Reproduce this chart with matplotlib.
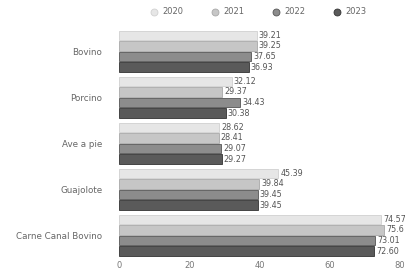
import numpy as np
import matplotlib.pyplot as plt
from matplotlib.lines import Line2D

categories = ["Bovino", "Porcino", "Ave a pie", "Guajolote", "Carne Canal Bovino"]
years = ["2020", "2021", "2022", "2023"]
v2020 = [39.21, 32.12, 28.62, 45.39, 74.57]
v2021 = [39.25, 29.37, 28.41, 39.84, 75.6]
v2022 = [37.65, 34.43, 29.07, 39.45, 73.01]
v2023 = [36.93, 30.38, 29.27, 39.45, 72.60]
labels2021 = ["39.25", "29.37", "28.41", "39.84", "75.6"]

series = [v2020, v2021, v2022, v2023]
colors = ["#e6e6e6", "#c6c6c6", "#8c8c8c", "#5a5a5a"]
edges = ["#d0d0d0", "#a8a8a8", "#555555", "#333333"]

fig = plt.figure(figsize=(4.06, 2.69), dpi=100)
ax = fig.add_axes([0.293, 0.04, 0.692, 0.855])

y = np.arange(len(categories))
h = 0.23
for i, (vals, c, ec) in enumerate(zip(series, colors, edges)):
    pos = y + (i - 1.5) * h
    bars = ax.barh(pos, vals, height=h * 0.9, color=c, edgecolor=ec, linewidth=0.6)
    for j, (b, v) in enumerate(zip(bars, vals)):
        txt = labels2021[j] if i == 1 else f"{v:.2f}"
        ax.text(v + 0.6, b.get_y() + b.get_height() / 2, txt, va="center", ha="left",
                fontsize=5.8, color="#555555")

ax.set_yticks(y)
ax.set_yticklabels(categories, fontsize=6.3, color="#666666")
ax.set_xlim(0, 80)
ax.set_xticks([0, 20, 40, 60, 80])
ax.tick_params(axis="x", labelsize=6, labelcolor="#777777", length=0, pad=2)
ax.tick_params(axis="y", length=0, pad=12)
ax.set_ylim(len(categories) - 0.5, -0.5)
for s in ax.spines.values():
    s.set_visible(False)

handles = [Line2D([], [], marker="o", linestyle="none", markersize=5,
                  markerfacecolor=c, markeredgecolor=ec, markeredgewidth=0.6)
           for c, ec in zip(colors, edges)]
fig.legend(handles, years, loc="upper center", bbox_to_anchor=(0.635, 1.0), ncol=4,
           frameon=False, fontsize=6, handlelength=1.0, handletextpad=0.5,
           columnspacing=3.3, labelcolor="#666666")

fig.savefig("out.png", dpi=100)
